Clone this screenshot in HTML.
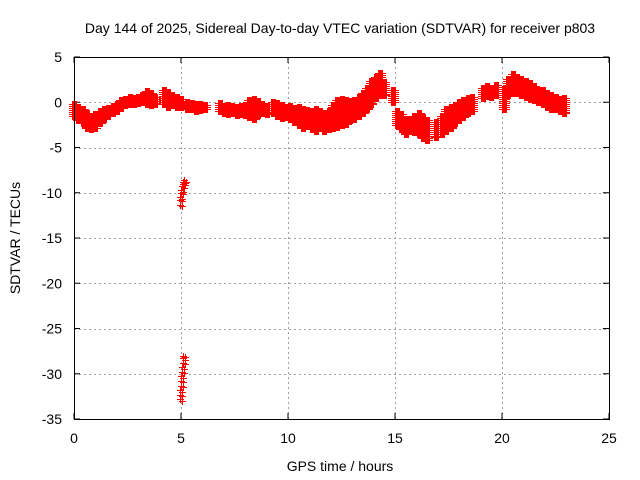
<!DOCTYPE html>
<html><head><meta charset="utf-8"><style>
body{margin:0;background:#fff}
svg{display:block;font-family:"Liberation Sans",sans-serif}
</style></head><body>
<svg id="chart" width="640" height="480">
<rect width="640" height="480" fill="#fff"/>
</svg>
<script>
const hours=[0.0,0.2,0.4,0.6,0.8,1.0,1.2,1.4,1.6,1.8,2.0,2.2,2.4,2.6,2.8,3.0,3.2,3.4,3.6,3.8,4.2,4.4,4.6,4.8,5.0,5.3,5.5,5.7,5.9,6.1,6.8,7.0,7.2,7.4,7.6,7.8,8.0,8.2,8.4,8.6,8.8,9.0,9.3,9.5,9.7,9.9,10.1,10.3,10.5,10.7,10.9,11.1,11.3,11.5,11.7,11.9,12.1,12.3,12.5,12.7,12.9,13.1,13.3,13.5,13.7,13.9,14.1,14.3,14.5,14.9,15.1,15.3,15.5,15.7,15.9,16.1,16.3,16.5,16.9,17.2,17.4,17.6,17.8,18.0,18.2,18.4,18.6,19.1,19.3,19.5,19.7,20.1,20.3,20.5,20.7,20.9,21.1,21.3,21.5,21.7,21.9,22.1,22.3,22.5,22.7,22.9];
const highVals=[-0.2,-0.5,-0.8,-1.2,-1.5,-1.3,-1.0,-0.8,-0.6,-0.4,-0.2,0.2,0.4,0.6,0.5,0.6,0.8,1.2,1.0,0.6,1.3,1.1,0.8,0.6,0.4,0.0,-0.1,-0.2,-0.2,-0.3,-0.1,-0.4,-0.3,-0.4,-0.5,-0.4,-0.3,0.2,0.4,0.1,-0.2,-0.4,0.0,-0.1,-0.3,-0.5,-0.4,-0.6,-0.5,-0.8,-0.9,-1.0,-0.8,-1.0,-1.2,-1.0,-0.3,0.2,0.4,0.2,0.1,0.3,0.6,1.0,1.6,2.3,2.8,3.2,2.2,1.3,-1.0,-1.3,-1.8,-2.0,-1.5,-1.2,-1.6,-2.0,-2.2,-1.5,-0.8,-0.5,-0.3,0.0,0.2,0.5,0.6,1.6,1.8,1.6,1.9,1.5,2.6,3.1,2.8,2.6,2.4,2.1,1.8,1.4,1.3,1.0,0.8,0.6,0.4,0.5];
const lowVals=[-1.5,-2.0,-2.3,-2.8,-3.0,-2.8,-2.3,-1.8,-1.5,-1.2,-1.0,-0.6,-0.3,-0.2,-0.2,-0.1,0.0,-0.2,-0.3,-0.2,-0.2,-0.5,-0.3,-0.5,-0.5,-0.7,-0.8,-1.0,-0.9,-0.8,-1.0,-1.2,-1.3,-1.2,-1.4,-1.3,-1.4,-1.6,-1.8,-1.4,-1.2,-1.3,-1.2,-1.5,-1.7,-1.6,-1.8,-2.2,-2.5,-2.8,-2.6,-3.0,-3.2,-2.8,-3.2,-3.0,-2.8,-2.7,-2.5,-2.4,-2.0,-1.8,-1.5,-1.2,-0.8,-0.2,0.5,1.0,0.8,0.0,-2.5,-3.0,-3.5,-3.0,-3.3,-3.5,-4.0,-4.2,-3.8,-3.5,-3.2,-2.8,-2.3,-2.0,-1.6,-1.2,-1.0,0.5,0.7,0.6,0.8,-0.8,0.8,1.0,1.0,0.8,0.6,0.4,0.3,0.0,-0.2,-0.5,-0.7,-0.8,-1.0,-1.2];
const outHours=[4.98,5.0,5.02,5.05,5.07,5.1,5.13,5.16,5.18,4.98,5.0,5.02,5.03,5.05,5.07,5.09,5.11,5.13,5.15,5.16];
const outVals=[-11.3,-10.8,-10.5,-10.0,-9.7,-9.3,-9.0,-8.8,-8.6,-32.8,-32.3,-31.8,-31.3,-30.8,-30.3,-29.8,-29.3,-28.8,-28.3,-28.0];
const xTicks=[0,5,10,15,20,25];
const yTicks=[5,0,-5,-10,-15,-20,-25,-30,-35];

const L=74,R=609,T=57,B=419;
const sx=v=>L+(v-0)/25*(R-L);
const sy=v=>T+(5-v)/40*(B-T);
const svg=document.getElementById('chart');
const NS='http://www.w3.org/2000/svg';
function mk(tag,attrs,parent){const e=document.createElementNS(NS,tag);for(const k in attrs)e.setAttribute(k,attrs[k]);(parent||svg).appendChild(e);return e;}

const grid=mk('g',{});


xTicks.forEach(t=>{
  if(t>0&&t<25){const l=mk('line',{x1:Math.round(sx(t))+0.5,x2:Math.round(sx(t))+0.5,y1:T,y2:B,stroke:'#a0a0a0','stroke-dasharray':'2,3'},grid);
  }
  const tk=mk('path',{d:`M${sx(t)},${B}v-6M${sx(t)},${T}v6`,stroke:'#000'});
  
  const tx=mk('text',{x:sx(t),y:B+24,'text-anchor':'middle','font-size':'14'});
  tx.textContent=t;
  
});
yTicks.forEach(t=>{
  if(t<5&&t>-35){const l=mk('line',{x1:L,x2:R,y1:Math.round(sy(t))+0.5,y2:Math.round(sy(t))+0.5,stroke:'#a0a0a0','stroke-dasharray':'2,3'},grid);
  }
  const tk=mk('path',{d:`M${L},${sy(t)}h6M${R},${sy(t)}h-6`,stroke:'#000'});
  
  const tx=mk('text',{x:L-12,y:sy(t)+5,'text-anchor':'end','font-size':'14'});
  tx.textContent=t;
  
});

const pts=mk('g',{stroke:'#ff0000','stroke-width':'1',fill:'none','shape-rendering':'crispEdges'});


let d='';
function plus(x,y){x=Math.round(x)+0.5;y=Math.round(y)+0.5;d+=`M${x-3.5},${y}h7M${x},${y-3.5}v7`;}
hours.forEach((h,i)=>{
  const x=sx(h),y1=sy(highVals[i]),y2=sy(lowVals[i]);
  for(const dx of [-2,-1,0,1,2]){
    for(let y=y1;y<y2;y+=2)plus(x+dx,y);
    plus(x+dx,y2);
  }
});
outHours.forEach((h,i)=>{plus(sx(h)-1,sy(outVals[i]));plus(sx(h)+1,sy(outVals[i])+1.5);});
const p=mk('path',{d:d},pts);



const frame=mk('rect',{x:L+0.5,y:T+0.5,width:R-L,height:B-T,fill:'none',stroke:'#000'});



const title=mk('text',{x:340,y:33,'text-anchor':'middle','font-size':'14'});
title.textContent='Day 144 of 2025, Sidereal Day-to-day VTEC variation (SDTVAR) for receiver p803';


const xl=mk('text',{x:340,y:471,'text-anchor':'middle','font-size':'14'});
xl.textContent='GPS time / hours';


const yl=mk('text',{x:0,y:0,'text-anchor':'middle','font-size':'14',transform:'translate(20,238) rotate(-90)'});
yl.textContent='SDTVAR / TECUs';


</script>
</body></html>
